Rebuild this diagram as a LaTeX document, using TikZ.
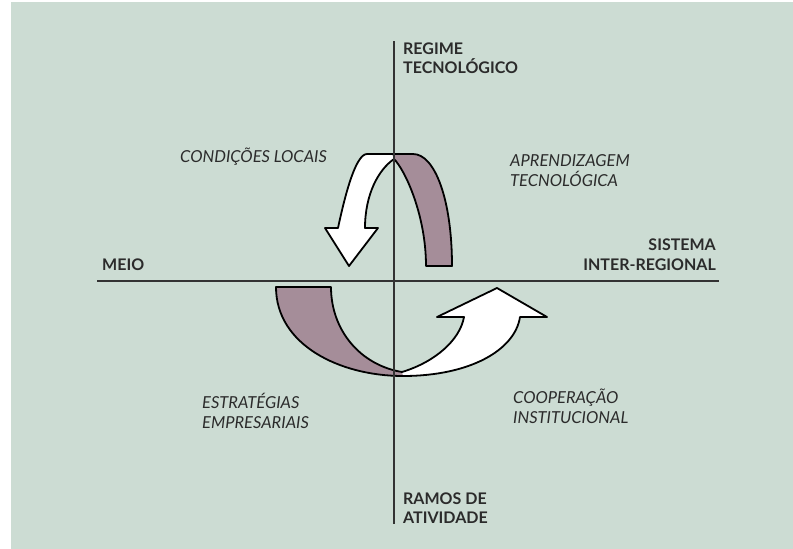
\documentclass[tikz,border=0pt]{standalone}
\usepackage{fontspec}
\setmainfont{Lato}
\definecolor{bgc}{HTML}{CCDCD3}
\definecolor{purp}{HTML}{A58D99}
\definecolor{txt}{HTML}{2B2B2B}
\definecolor{axc}{HTML}{333333}
\tikzset{
  axlab/.style={font=\fontsize{16}{20}\selectfont\bfseries, text=txt, inner sep=0pt},
  itlab/.style={font=\fontsize{16.5}{20}\selectfont\itshape, text=txt, inner sep=0pt},
  axline/.style={draw=axc, line width=1.8pt},
  outl/.style={draw=black, line width=1.8pt, line join=round}
}
\begin{document}
\begin{tikzpicture}[x=1pt,y=-1pt]
\useasboundingbox (0,0) rectangle (793,549);
\fill[white] (0,0) rectangle (793,549);
\fill[bgc] (11,2) rectangle (793,549);

% upper shape
\fill[white] (426,266) .. controls (426,215) and (405,170) .. (394,159)
  .. controls (378,170) and (365,195) .. (365,228) -- (378,228) -- (349,266) -- (325,228) -- (338,228)
  .. controls (344,200) and (355,154) .. (367,154) -- (413,154)
  .. controls (435,154) and (452,200) .. (452,266) -- cycle;
\fill[purp] (426,266) .. controls (426,215) and (405,170) .. (394,159) -- (392,154) -- (413,154)
  .. controls (435,154) and (452,200) .. (452,266) -- cycle;
\draw[outl] (426,266) .. controls (426,215) and (405,170) .. (394,159)
  .. controls (378,170) and (365,195) .. (365,228) -- (378,228) -- (349,266) -- (325,228) -- (338,228)
  .. controls (344,200) and (355,154) .. (367,154) -- (413,154)
  .. controls (435,154) and (452,200) .. (452,266) -- cycle;

% lower shape
\fill[white] (331,287) .. controls (331,330) and (360,365) .. (402,372)
  .. controls (435,362) and (460,340) .. (464,317) -- (437,317) -- (497,288) -- (547,317) -- (520,317)
  .. controls (515,350) and (470,376) .. (403,376)
  .. controls (340,376) and (276,345) .. (276,287) -- cycle;
\fill[purp] (331,287) .. controls (331,330) and (360,365) .. (402,372) -- (403,376)
  .. controls (340,376) and (276,345) .. (276,287) -- cycle;
\draw[outl] (331,287) .. controls (331,330) and (360,365) .. (402,372)
  .. controls (435,362) and (460,340) .. (464,317) -- (437,317) -- (497,288) -- (547,317) -- (520,317)
  .. controls (515,350) and (470,376) .. (403,376)
  .. controls (340,376) and (276,345) .. (276,287) -- cycle;

% axes
\coordinate (vt) at (394,41);
\coordinate (vb) at (394,524);
\coordinate (hl) at (97,281);
\coordinate (hr) at (719,281);
\draw[axline] (vt) -- (vb);
\draw[axline] (hl) -- (hr);

% axis labels
\node[axlab, anchor=base west] (reg1) at (403,54) {REGIME};
\node[axlab, anchor=base west] (reg2) at (403,73) {TECNOLÓGICO};
\node[axlab, anchor=base west] (ram1) at (403,504) {RAMOS DE};
\node[axlab, anchor=base west] (ram2) at (403,523) {ATIVIDADE};
\node[axlab, anchor=base west] (meio) at (102,270) {MEIO};
\node[axlab, anchor=base east] (sis1) at (716,250) {SISTEMA};
\node[axlab, anchor=base east] (sis2) at (716,270) {INTER-REGIONAL};

% italic labels
\node[itlab, anchor=base west] (cond) at (180,162) {CONDIÇÕES LOCAIS};
\node[itlab, anchor=base west] (apr1) at (510,166) {APRENDIZAGEM};
\node[itlab, anchor=base west] (apr2) at (510,186) {TECNOLÓGICA};
\node[itlab, anchor=base west] (est1) at (202,408) {ESTRATÉGIAS};
\node[itlab, anchor=base west] (est2) at (202,428) {EMPRESARIAIS};
\node[itlab, anchor=base west] (coo1) at (513,403) {COOPERAÇÃO};
\node[itlab, anchor=base west] (coo2) at (513,423) {INSTITUCIONAL};
\end{tikzpicture}
\end{document}
